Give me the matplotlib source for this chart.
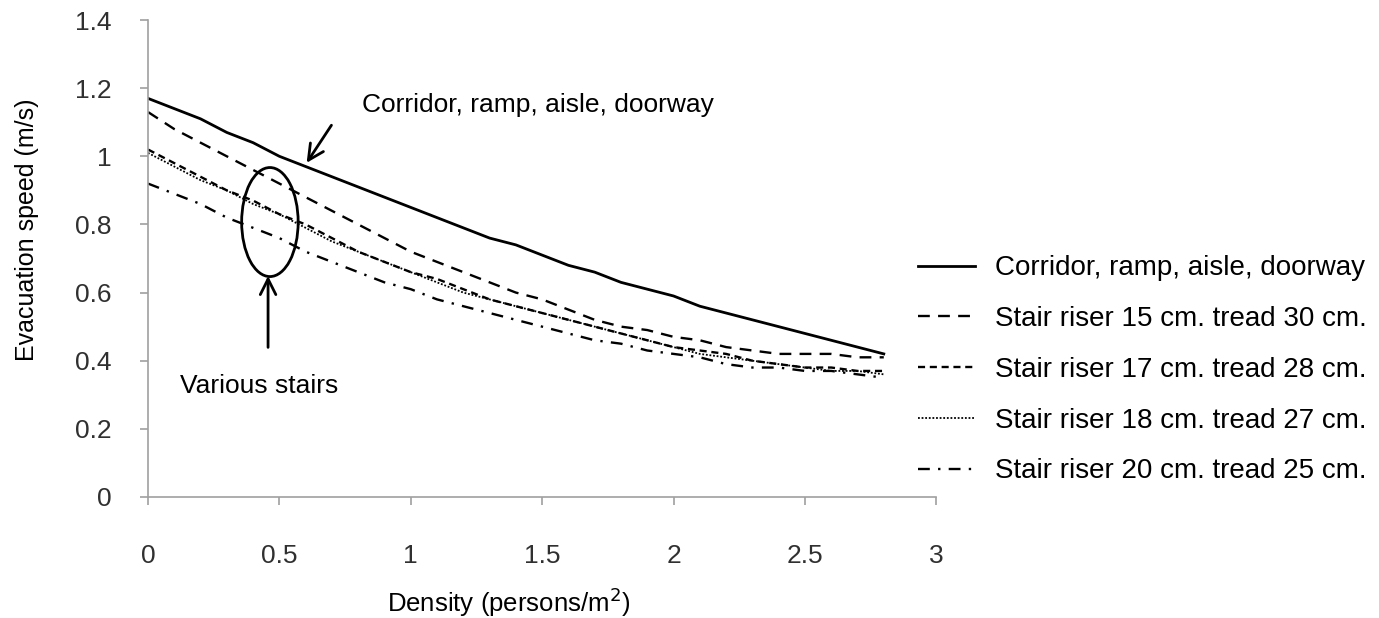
import numpy as np
import matplotlib.pyplot as plt
from matplotlib.patches import Ellipse

plt.rcParams['font.family'] = ['Liberation Sans', 'DejaVu Sans']

densidad = [0.0, 0.1, 0.2, 0.3, 0.4, 0.5, 0.6, 0.7, 0.8, 0.9, 1.0, 1.1, 1.2, 1.3, 1.4,
            1.5, 1.6, 1.7, 1.8, 1.9, 2.0, 2.1, 2.2, 2.3, 2.4, 2.5, 2.6, 2.7, 2.8]

corredor = [1.17, 1.14, 1.11, 1.07, 1.04, 1.00, 0.97, 0.94, 0.91, 0.88, 0.85, 0.82, 0.79, 0.76, 0.74,
            0.71, 0.68, 0.66, 0.63, 0.61, 0.59, 0.56, 0.54, 0.52, 0.50, 0.48, 0.46, 0.44, 0.42]
escalera_15_30 = [1.13, 1.08, 1.04, 1.00, 0.96, 0.92, 0.88, 0.84, 0.80, 0.76, 0.72, 0.69, 0.66, 0.63, 0.60,
                  0.58, 0.55, 0.52, 0.50, 0.49, 0.47, 0.46, 0.44, 0.43, 0.42, 0.42, 0.42, 0.41, 0.41]
escalera_17_28 = [1.02, 0.98, 0.94, 0.90, 0.87, 0.83, 0.80, 0.76, 0.72, 0.69, 0.66, 0.64, 0.61, 0.58, 0.56,
                  0.54, 0.52, 0.50, 0.48, 0.46, 0.44, 0.43, 0.42, 0.40, 0.39, 0.38, 0.38, 0.37, 0.37]
escalera_18_27 = [1.01, 0.97, 0.93, 0.90, 0.86, 0.83, 0.79, 0.75, 0.72, 0.69, 0.66, 0.63, 0.60, 0.58, 0.56,
                  0.54, 0.52, 0.50, 0.48, 0.46, 0.44, 0.42, 0.41, 0.40, 0.39, 0.38, 0.37, 0.37, 0.36]
escalera_20_25 = [0.92, 0.89, 0.86, 0.82, 0.79, 0.76, 0.72, 0.69, 0.66, 0.63, 0.61, 0.58, 0.56, 0.54, 0.52,
                  0.50, 0.48, 0.46, 0.45, 0.43, 0.42, 0.41, 0.39, 0.38, 0.38, 0.37, 0.37, 0.36, 0.35]

etiquetas = ['Corridor, ramp, aisle, doorway',
             'Stair riser 15 cm. tread 30 cm.',
             'Stair riser 17 cm. tread 28 cm.',
             'Stair riser 18 cm. tread 27 cm.',
             'Stair riser 20 cm. tread 25 cm.']

fig = plt.figure(figsize=(13.79, 6.18), dpi=100)
ax = fig.add_axes([0.1073, 0.1958, 0.5717, 0.7718])

ax.plot(densidad, corredor, color='black', lw=2.0, label=etiquetas[0])
ax.plot(densidad, escalera_15_30, color='black', lw=1.7, dashes=(5, 3.5), label=etiquetas[1])
ax.plot(densidad, escalera_17_28, color='black', lw=1.7, dashes=(3, 2), label=etiquetas[2])
ax.plot(densidad, escalera_18_27, color='black', lw=1.3, dashes=(1, 1), label=etiquetas[3])
ax.plot(densidad, escalera_20_25, color='black', lw=1.7, dashes=(5, 3.5, 1, 3.5), label=etiquetas[4])

ax.set_xlim(0, 3)
ax.set_ylim(0, 1.4)
ax.set_xticks([0, 0.5, 1, 1.5, 2, 2.5, 3])
ax.set_xticklabels(['0', '0.5', '1', '1.5', '2', '2.5', '3'])
ax.set_yticks([0, 0.2, 0.4, 0.6, 0.8, 1.0, 1.2, 1.4])
ax.set_yticklabels(['0', '0.2', '0.4', '0.6', '0.8', '1', '1.2', '1.4'])

for lado in ['top', 'right']:
    ax.spines[lado].set_visible(False)
for lado in ['left', 'bottom']:
    ax.spines[lado].set_color('#a0a0a0')
    ax.spines[lado].set_linewidth(1.2)
ax.tick_params(axis='both', direction='out', length=6, width=1.2, color='#a0a0a0',
               labelsize=19, labelcolor='#303030')
ax.tick_params(axis='x', pad=28)
ax.tick_params(axis='y', pad=20)

ax.set_xlabel('Density (persons/m$^2$)', fontsize=18.5)
ax.set_ylabel('Evacuation speed (m/s)', fontsize=18)
ax.xaxis.set_label_coords(0.458, -0.186)
ax.yaxis.set_label_coords(-0.138, 0.56)

# anotaciones
ax.annotate('', xy=(0.598, 0.974), xytext=(0.704, 1.098),
            arrowprops=dict(arrowstyle='->', color='black', lw=2, mutation_scale=28))
ax.text(0.815, 1.151, 'Corridor, ramp, aisle, doorway', fontsize=19, va='center', ha='left')

ax.add_patch(Ellipse((0.464, 0.807), 0.215, 0.32, fill=False, edgecolor='black', lw=2))
ax.annotate('', xy=(0.457, 0.657), xytext=(0.457, 0.431),
            arrowprops=dict(arrowstyle='->', color='black', lw=2, mutation_scale=28))
ax.text(0.122, 0.326, 'Various stairs', fontsize=19, va='center', ha='left')

fig.legend(loc='center left', bbox_to_anchor=(0.6657, 0.4015), frameon=False,
           borderaxespad=0, borderpad=0,
           fontsize=20, handlelength=2.05, handletextpad=0.72, labelspacing=0.89)

plt.savefig('out.png')
